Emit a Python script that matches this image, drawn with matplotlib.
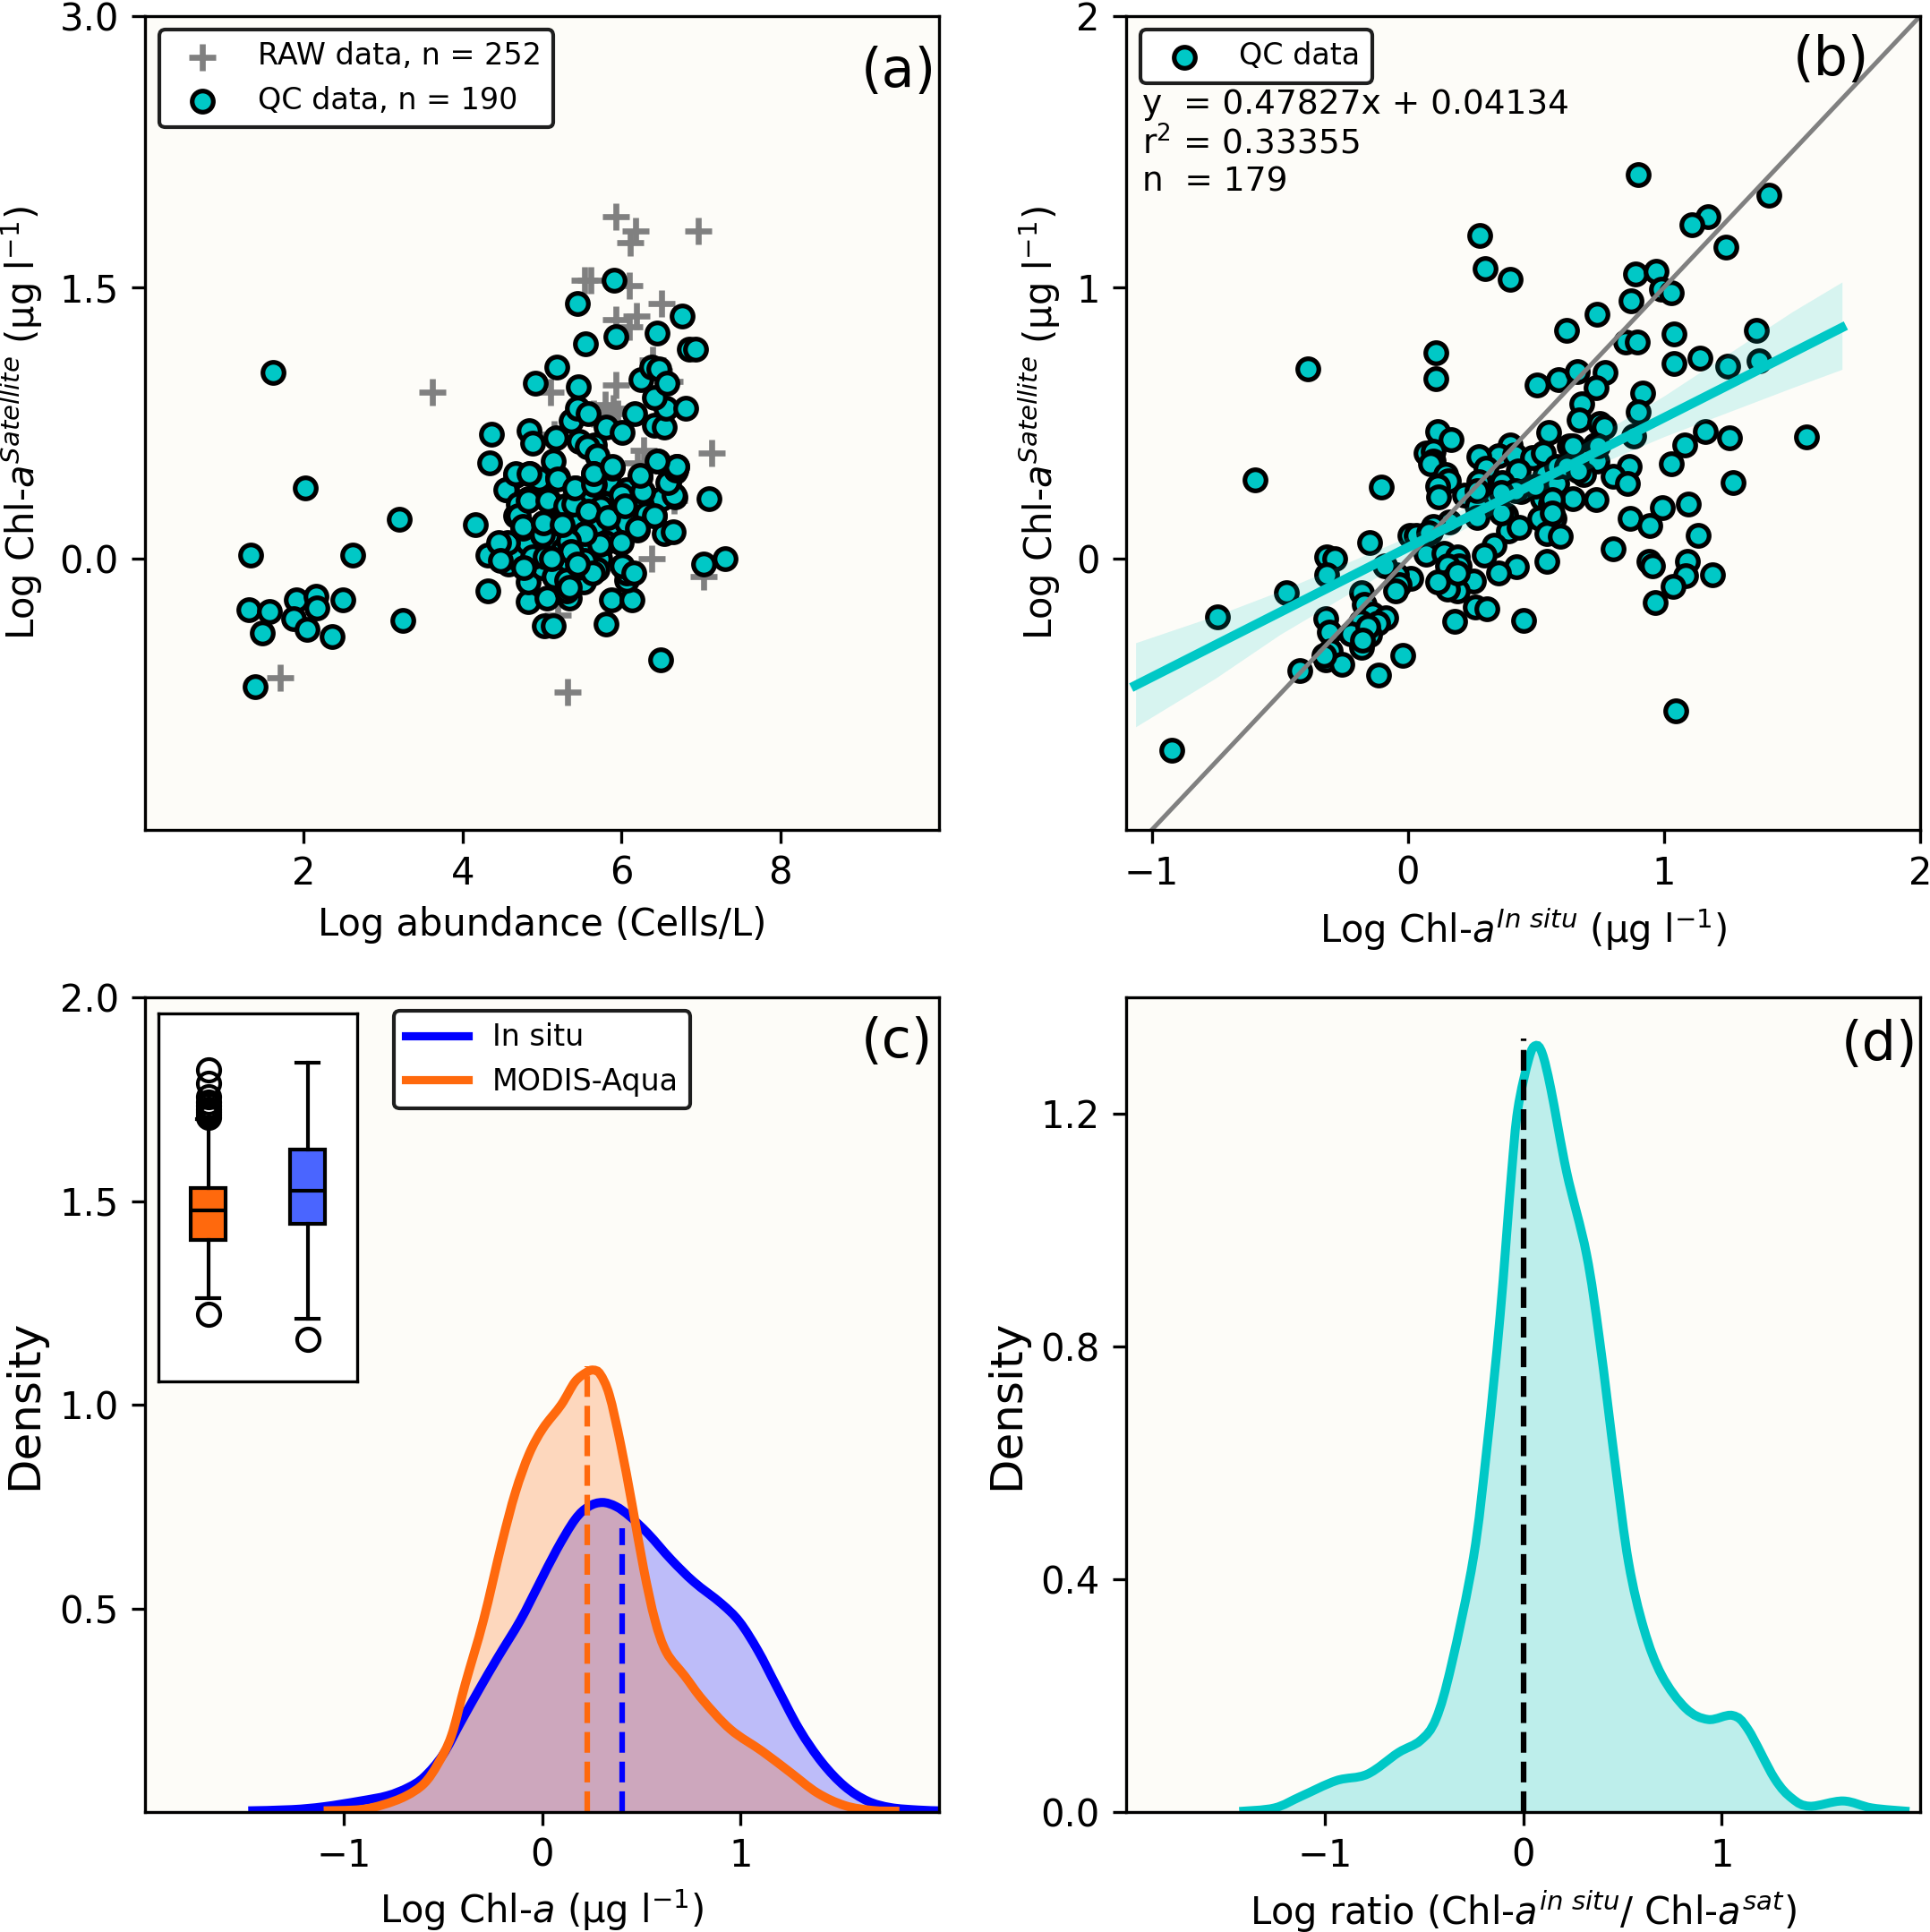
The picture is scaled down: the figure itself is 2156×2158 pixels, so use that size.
import matplotlib
matplotlib.use('Agg')
import matplotlib.pyplot as plt
from matplotlib.lines import Line2D
from matplotlib.patches import PathPatch
from matplotlib.path import Path

W, H, DPI = 2156, 2158, 300
TEAL = '#00c8c6'
ORANGE = '#ff690d'
BLUE = '#0000ff'
BG = '#fdfcf8'

raw_x = [5.93,6.18,6.11,6.97,5.53,5.61,6.10,6.50,5.93,6.19,6.10,3.62,5.11,5.93,5.80,5.90,6.39,6.61,7.14,6.28,6.20,6.38,7.04,5.20,1.70,5.32,5.15,6.66,5.95,5.65]
raw_y = [1.89,1.81,1.75,1.81,1.54,1.54,1.51,1.41,1.32,1.34,1.28,0.92,0.92,0.96,0.85,0.83,1.10,0.98,0.585,0.60,0.53,0.0,-0.10,-0.31,-0.66,-0.74,0.69,0.32,0.80,0.80]

qc_x = [1.61,2.02,3.20,4.16,1.33,2.61,1.31,1.57,1.90,2.15,2.16,1.87,2.49,2.04,1.48,2.36,3.25,1.39,6.49,5.81,
        5.03,5.14,4.32,4.83,5.06,5.34,5.31,5.87,6.13,4.83,5.52,6.06,6.07,6.01,5.26,5.28,5.00,4.58,4.64,4.32,
        7.04,7.30,5.73,5.38,5.45,5.69,4.81,4.57,4.45,5.00,4.76,5.02,5.20,5.34,5.54,5.99,6.20,6.54,6.65,6.42,
        5.83,5.56,6.04,5.30,5.42,5.08,4.71,4.67,4.83,4.55,4.67,4.85,4.96,5.20,5.42,5.14,4.34,4.36,4.84,4.88,
        5.18,5.47,5.37,5.45,5.58,5.66,5.57,5.69,5.81,6.01,6.17,6.42,6.54,6.56,6.81,6.42,6.25,6.38,6.47,6.57,
        4.92,5.19,5.46,5.55,5.93,6.45,6.77,6.86,6.93,5.91,5.45,6.46,6.70,6.67,6.60,6.24,6.27,5.84,5.66,5.88,
        5.65,7.10,6.67,6.50,6.20,5.99,5.79,5.58,6.07,5.26,5.47,5.66,5.91,6.07,6.31,5.74,5.26,5.12,5.26,5.58,
        5.80,4.88,5.04,5.26,5.53,5.64,5.15,5.31,5.34,6.15,4.77,4.48,
        4.54,4.67,4.84,5.20,4.70,4.70,4.82,5.07,5.30,5.40,5.41,5.58,5.65,5.65,5.88,6.00,5.83,6.04,6.27,6.23,
        6.41,6.66,6.58,6.68,6.70,6.45,6.20,6.00,5.73,5.54,5.33,5.00,4.76,5.02,5.25,5.37,5.12,5.45]
qc_y = [1.03,0.39,0.22,0.19,0.02,0.02,-0.28,-0.29,-0.23,-0.21,-0.27,-0.33,-0.23,-0.39,-0.41,-0.43,-0.34,-0.71,-0.56,-0.36,
        -0.37,-0.37,-0.18,-0.24,-0.22,-0.22,-0.18,-0.23,-0.23,-0.13,-0.13,-0.12,-0.08,-0.04,-0.13,-0.08,-0.05,-0.03,0.01,0.02,
        -0.03,0.00,0.00,0.04,-0.05,-0.06,0.09,0.09,0.09,0.13,0.17,0.20,0.13,0.10,0.14,0.09,0.16,0.14,0.15,0.24,
        0.23,0.26,0.29,0.29,0.31,0.32,0.30,0.24,0.33,0.38,0.46,0.47,0.44,0.45,0.39,0.54,0.53,0.69,0.71,0.64,
        0.67,0.65,0.76,0.83,0.80,0.63,0.62,0.57,0.73,0.70,0.80,0.74,0.73,0.83,0.83,0.89,0.99,1.06,1.05,0.97,
        0.97,1.06,0.95,1.19,1.23,1.25,1.34,1.16,1.16,1.54,1.41,0.54,0.51,0.48,0.42,0.45,0.36,0.42,0.41,0.50,
        0.47,0.33,0.34,0.33,0.28,0.34,0.30,0.32,0.38,0.23,0.20,0.18,0.18,0.20,0.25,0.28,0.16,0.09,0.05,0.05,
        0.09,0.01,0.01,-0.02,-0.01,-0.08,-0.10,-0.12,-0.16,-0.08,-0.05,-0.01,
        0.38,0.47,0.47,0.44,0.30,0.24,0.32,0.32,0.29,0.30,0.39,0.26,0.41,0.47,0.51,0.35,0.23,0.29,0.37,0.46,
        0.24,0.35,0.42,0.49,0.51,0.54,0.17,0.09,0.08,0.14,0.10,0.135,0.18,0.20,0.19,0.04,0.0,-0.03]

b_x = [0.90,1.41,1.17,1.11,1.24,0.28,0.30,0.40,0.89,0.97,0.99,1.03,0.87,0.74,0.62,1.04,1.36,0.85,0.895,0.11,0.11,-0.39,1.04,1.14,1.25,1.37,
       0.505,0.587,0.66,0.77,0.735,0.68,0.67,0.915,0.90,0.75,0.765,0.88,1.16,1.08,1.256,1.557,0.117,0.17,0.55,0.40,0.354,0.278,0.416,0.486,0.53,0.63,0.643,0.73,
       0.07,0.098,0.10,0.09,1.03,0.865,0.80,0.857,1.268,0.74,0.685,-0.596,-0.104,0.146,0.159,0.117,0.12,0.306,0.43,0.534,0.58,0.369,0.31,0.44,0.22,0.27,
       0.643,0.736,0.524,0.558,1.094,0.995,0.868,0.946,0.269,0.382,0.571,0.515,0.392,0.435,0.543,0.594,0.161,0.089,0.008,-0.148,-0.318,-0.284,1.135,0.335,0.80,
       0.07,0.14,0.193,0.297,0.541,0.94,0.954,1.09,1.086,1.188,1.037,0.965,0.424,0.354,0.20,0.155,0.255,0.174,0.14,0.193,0.155,0.013,-0.044,-0.091,-0.034,-0.049,
       -0.318,-0.473,-0.745,-0.182,-0.17,-0.138,-0.087,-0.119,-0.185,-0.322,-0.305,-0.223,-0.151,-0.18,-0.303,-0.322,-0.257,-0.422,-0.021,-0.115,0.184,0.263,0.31,0.452,-0.921,1.046,
       0.58,0.278,0.098,0.032,0.08,0.363,0.562,0.562,0.619,0.666,0.742,0.42,0.496,0.363,0.269,0.193,0.117,-0.157,-0.327,-0.176]
b_y = [1.415,1.34,1.26,1.23,1.15,1.19,1.07,1.03,1.05,1.06,0.995,0.98,0.95,0.90,0.84,0.83,0.84,0.80,0.80,0.76,0.665,0.70,0.72,0.74,0.71,0.73,
       0.64,0.66,0.69,0.685,0.63,0.57,0.51,0.61,0.54,0.50,0.485,0.453,0.47,0.42,0.445,0.45,0.47,0.44,0.465,0.42,0.38,0.376,0.383,0.374,0.39,0.415,0.415,0.42,
       0.39,0.396,0.36,0.35,0.35,0.34,0.305,0.276,0.28,0.36,0.31,0.29,0.264,0.31,0.287,0.267,0.227,0.333,0.325,0.31,0.276,0.279,0.227,0.246,0.235,0.194,
       0.22,0.218,0.222,0.202,0.202,0.189,0.149,0.123,0.153,0.161,0.149,0.149,0.103,0.117,0.094,0.082,0.136,0.10,0.087,0.059,0.005,0.0,0.087,0.051,0.036,
       0.018,0.021,0.005,0.013,-0.01,-0.011,-0.028,-0.01,-0.064,-0.059,-0.103,-0.161,-0.03,-0.053,-0.028,-0.025,-0.082,-0.077,-0.09,-0.118,-0.113,-0.072,-0.061,-0.028,-0.097,-0.118,
       -0.061,-0.125,-0.215,-0.125,-0.167,-0.205,-0.218,-0.238,-0.233,-0.222,-0.271,-0.278,-0.282,-0.327,-0.34,-0.373,-0.389,-0.414,-0.358,-0.429,-0.232,-0.179,-0.186,-0.228,-0.706,-0.562,
       0.34,0.284,0.12,0.087,0.095,0.169,0.218,0.169,0.34,0.325,0.415,0.25,0.268,0.243,0.251,-0.053,-0.085,-0.25,-0.356,-0.299]

fit_slope, fit_intercept = 0.47827, 0.04134
fit_x = [-1.08, 1.71]
ci_x = [-1.063,-0.75,-0.5,-0.25,0,0.25,0.5,0.75,1,1.25,1.5,1.695]
ci_hi = [-0.31,-0.21,-0.12,-0.02,0.08,0.20,0.325,0.46,0.60,0.755,0.91,1.02]
ci_lo = [-0.62,-0.44,-0.28,-0.14,0.0,0.125,0.24,0.35,0.45,0.54,0.63,0.698]
one_one = [-1.1, 2]

blue_x = [-1.48,-1.26,-1.10,-0.917,-0.78,-0.675,-0.594,-0.50,-0.41,-0.318,-0.226,-0.11,-0.018,0.074,0.166,0.235,0.304,0.373,0.442,0.535,0.65,0.765,0.903,0.995,1.088,1.18,1.295,1.41,1.525,1.64,1.756,1.894,2.0]
blue_y = [0.003,0.006,0.013,0.027,0.04,0.06,0.086,0.14,0.22,0.30,0.377,0.47,0.557,0.644,0.718,0.75,0.76,0.75,0.726,0.683,0.62,0.565,0.512,0.467,0.396,0.31,0.204,0.122,0.063,0.027,0.011,0.005,0.003]
orange_x = [-1.10,-0.917,-0.80,-0.687,-0.594,-0.525,-0.456,-0.387,-0.295,-0.203,-0.134,-0.065,0.005,0.097,0.166,0.223,0.258,0.293,0.339,0.396,0.454,0.512,0.569,0.627,0.719,0.81,0.949,1.11,1.249,1.387,1.525,1.664,1.80]
orange_y = [0.003,0.006,0.018,0.039,0.07,0.118,0.188,0.314,0.471,0.659,0.785,0.879,0.942,1.0,1.056,1.079,1.085,1.075,1.024,0.903,0.754,0.597,0.471,0.392,0.334,0.275,0.203,0.149,0.098,0.047,0.016,0.004,0.002]
mean_orange, mean_orange_top = 0.226, 1.095
mean_blue, mean_blue_top = 0.405, 0.697

ratio_x = [-1.43,-1.253,-1.119,-0.941,-0.785,-0.629,-0.517,-0.439,-0.361,-0.25,-0.183,-0.116,-0.06,-0.027,0.029,0.062,0.096,0.14,0.219,0.319,0.386,0.464,0.531,0.609,0.698,0.82,0.932,1.055,1.133,1.266,1.356,1.445,1.612,1.757,1.946]
ratio_y = [0.001,0.007,0.027,0.054,0.065,0.102,0.123,0.16,0.253,0.438,0.624,0.853,1.092,1.207,1.295,1.317,1.304,1.242,1.10,0.959,0.809,0.597,0.429,0.314,0.235,0.178,0.159,0.166,0.142,0.058,0.023,0.01,0.019,0.007,0.001]
ratio_top = 1.33

box_stats = [
    dict(label='MODIS-Aqua', med=0.133, q1=-0.20, q3=0.377, whislo=-0.85, whishi=1.15,
         fliers=[-1.03,1.17,1.20,1.23,1.26,1.30,1.34,1.40,1.55,1.70]),
    dict(label='In situ', med=0.35, q1=-0.023, q3=0.807, whislo=-1.08, whishi=1.78, fliers=[-1.31]),
]
box_colors = [ORANGE, '#4a65ff']


def px_axes(fig, left, right, top, bottom, **kw):
    return fig.add_axes([left / W, 1 - bottom / H, (right - left) / W, (bottom - top) / H], **kw)


def style_legend(leg):
    frame = leg.get_frame()
    frame.set_edgecolor('#1e1e1e')
    frame.set_linewidth(1.0)
    frame.set_alpha(1)
    frame.set_facecolor('white')


def density_path(xs, ys, closed=False):
    """Bezier path through the read points (a curve primitive with the points as knots)."""
    pts = list(zip(xs, ys))
    verts = [pts[0]]
    codes = [Path.MOVETO]
    n = len(pts)
    for i in range(n - 1):
        p0 = pts[max(i - 1, 0)]
        p1 = pts[i]
        p2 = pts[i + 1]
        p3 = pts[min(i + 2, n - 1)]
        c1 = (p1[0] + (p2[0] - p0[0]) / 6, p1[1] + (p2[1] - p0[1]) / 6)
        c2 = (p2[0] - (p3[0] - p1[0]) / 6, p2[1] - (p3[1] - p1[1]) / 6)
        verts += [c1, c2, p2]
        codes += [Path.CURVE4] * 3
    if closed:
        verts += [(xs[-1], 0), (xs[0], 0), pts[0]]
        codes += [Path.LINETO, Path.LINETO, Path.CLOSEPOLY]
    return Path(verts, codes)


def draw_fill(ax, xs, ys, color, alpha=0.25):
    ax.add_patch(PathPatch(density_path(xs, ys, closed=True), facecolor=color, edgecolor='none', alpha=alpha))


def draw_curve(ax, xs, ys, color, lw=2.4):
    ax.add_patch(PathPatch(density_path(xs, ys), facecolor='none', edgecolor=color, lw=lw))


plt.rcParams.update({'font.size': 9, 'xtick.labelsize': 10, 'ytick.labelsize': 10, 'axes.labelsize': 10,
                     'xtick.major.pad': 3.2, 'axes.labelpad': 3.5, 'mathtext.default': 'regular'})
fig = plt.figure(figsize=(W / DPI, H / DPI), dpi=DPI)
leg_kw = dict(fontsize=8, handlelength=2.1, labelspacing=0.5, borderaxespad=0, loc='upper left', fancybox=True)

# (a)
ax = px_axes(fig, 162, 1049, 18, 927, facecolor=BG)
ax.scatter(raw_x, raw_y, marker='+', s=52, c='gray', linewidths=1.6, label='RAW data, n = 252')
ax.scatter(qc_x, qc_y, s=32, c=TEAL, edgecolors='k', linewidths=1.25, label='QC data, n = 190')
ax.set_xlim(0, 10); ax.set_ylim(-1.5, 3)
ax.set_xticks([2, 4, 6, 8]); ax.set_yticks([0, 1.5, 3]); ax.set_yticklabels(['0.0', '1.5', '3.0'])
ax.set_xlabel('Log abundance (Cells/L)')
ax.set_ylabel(r'Log Chl-$\mathit{a}^{\mathit{Satellite}}$ (µg l$^{-1}$)')
ax.yaxis.set_label_coords(-0.126, 0.5)
style_legend(ax.legend(bbox_to_anchor=(0.018, 0.9835), **leg_kw))
ax.text(0.997, 0.9315, '(a)', transform=ax.transAxes, ha='right', va='center', fontsize=14.5)

# (b)
ax = px_axes(fig, 1258, 2145, 18, 927, facecolor=BG)
ax.scatter(b_x, b_y, s=32, c=TEAL, edgecolors='k', linewidths=1.25, label='QC data')
ax.fill_between(ci_x, ci_lo, ci_hi, color=TEAL, alpha=0.15, linewidth=0)
ax.plot(one_one, one_one, color='gray', lw=1.2)
ax.plot(fit_x, [fit_slope * v + fit_intercept for v in fit_x], color=TEAL, lw=2.5, solid_capstyle='butt')
ax.set_xlim(-1.1, 2); ax.set_ylim(-1, 2)
ax.set_xticks([-1, 0, 1, 2]); ax.set_yticks([0, 1, 2])
ax.set_xlabel(r'Log Chl-$\mathit{a}^{\mathit{In\ situ}}$ (µg l$^{-1}$)')
ax.set_ylabel(r'Log Chl-$\mathit{a}^{\mathit{Satellite}}$ (µg l$^{-1}$)')
ax.yaxis.set_label_coords(-0.08, 0.5)
style_legend(ax.legend(bbox_to_anchor=(0.0185, 0.9835), **leg_kw))
ax.text(0.02, 0.891, 'y  = 0.47827x + 0.04134', transform=ax.transAxes, va='center')
ax.text(0.02, 0.843, 'r$^2$ = 0.33355', transform=ax.transAxes, va='center')
ax.text(0.02, 0.796, 'n  = 179', transform=ax.transAxes, va='center')
ax.text(0.936, 0.946, '(b)', transform=ax.transAxes, ha='right', va='center', fontsize=14.5)

# (c)
ax = px_axes(fig, 162, 1049, 1114, 2024, facecolor=BG)
draw_fill(ax, blue_x, blue_y, BLUE)
draw_fill(ax, orange_x, orange_y, ORANGE)
draw_curve(ax, blue_x, blue_y, BLUE)
draw_curve(ax, orange_x, orange_y, ORANGE)
ax.plot([mean_orange, mean_orange], [0, mean_orange_top], color=ORANGE, lw=1.5, ls='--')
ax.plot([mean_blue, mean_blue], [0, mean_blue_top], color=BLUE, lw=1.5, ls='--')
ax.set_xlim(-2, 2); ax.set_ylim(0, 2)
ax.set_xticks([-1, 0, 1]); ax.set_yticks([0.5, 1, 1.5, 2])
ax.set_xlabel(r'Log Chl-$\mathit{a}$ (µg l$^{-1}$)')
ax.set_ylabel('Density', fontsize=12)
ax.yaxis.set_label_coords(-0.125, 0.5)
handles = [Line2D([], [], color=BLUE, lw=2.2), Line2D([], [], color=ORANGE, lw=2.2)]
style_legend(ax.legend(handles, ['In situ', 'MODIS-Aqua'], bbox_to_anchor=(0.3134, 0.9835), **leg_kw))
ax.text(0.992, 0.945, '(c)', transform=ax.transAxes, ha='right', va='center', fontsize=14.5)

inset = px_axes(fig, 177, 399, 1132, 1543, facecolor='white')
bp = inset.bxp(box_stats, positions=[1, 2], widths=0.35, patch_artist=True, capwidths=0.22,
               medianprops=dict(color='k', lw=1), boxprops=dict(lw=1), flierprops=dict(marker='o', markersize=6, markerfacecolor='none'))
for patch, color in zip(bp['boxes'], box_colors):
    patch.set_facecolor(color)
inset.set_xlim(0.5, 2.5); inset.set_ylim(-1.78, 2.33)
inset.set_xticks([]); inset.set_yticks([])

# (d)
ax = px_axes(fig, 1258, 2145, 1114, 2024, facecolor=BG)
draw_fill(ax, ratio_x, ratio_y, TEAL)
draw_curve(ax, ratio_x, ratio_y, TEAL)
ax.plot([0, 0], [0, ratio_top], color='k', lw=1.5, ls='--')
ax.set_xlim(-2, 2); ax.set_ylim(0, 1.4)
ax.set_xticks([-1, 0, 1]); ax.set_yticks([0, 0.4, 0.8, 1.2])
ax.set_xlabel(r'Log ratio (Chl-$\mathit{a}^{\mathit{in\ situ}}$/ Chl-$\mathit{a}^{\mathit{sat}}$)')
ax.set_ylabel('Density', fontsize=12)
ax.yaxis.set_label_coords(-0.1235, 0.5)
ax.text(0.997, 0.941, '(d)', transform=ax.transAxes, ha='right', va='center', fontsize=14.5)

fig.savefig('out.png', dpi=DPI)
